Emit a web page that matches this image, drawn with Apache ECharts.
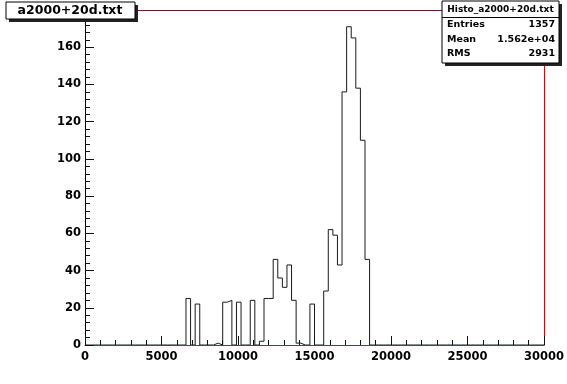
<!DOCTYPE html>
<html>
<head>
<meta charset="utf-8">
<script src="https://cdn.jsdelivr.net/npm/echarts@6/dist/echarts.min.js"></script>
<style>
html,body{margin:0;padding:0;background:#fff;}
#c{width:567px;height:384px;}
</style>
</head>
<body>
<div id="c"></div>
<script>
// ---- data ----
const histTitle = 'a2000+20d.txt';
const statsName = 'Histo_a2000+20d.txt';
const statsLabels = ['Entries', 'Mean', 'RMS'];
const statsValues = ['1357', '1.562e+04', '2931'];
const xMin = 0, xMax = 30000, binWidth = 300;
const yMax = 180;
const xTickStep = 5000;
const yTickStep = 20;
// bin contents, 100 bins of width 300 from 0 to 30000
const counts = [
  0,0,0,0,0,0,0,0,0,0,
  0,0,0,0,0,0,0,0,0,0,
  0,0,25,0,22,0,0,0,1,0,
  23,24,0,23,0,0,24,0,2,25,
  25,46,36,31,43,24,1,0,0,22,
  0,0,29,62,59,43,136,171,165,138,
  110,46,0,0,0,0,0,0,0,0,
  0,0,0,0,0,0,0,0,0,0,
  0,0,0,0,0,0,0,0,0,0,
  0,0,0,0,0,0,0,0,0,0
];

const stepData = counts.map((c, i) => [xMin + i * binWidth, c]);
stepData.push([xMin + counts.length * binWidth, counts[counts.length - 1]]);

const FONT = 'DejaVu Sans';
const chart = echarts.init(document.getElementById('c'), null, {renderer: 'canvas'});

const axisLabelStyle = {color: '#000', fontFamily: FONT, fontWeight: 'bold', fontSize: 11.5, formatter: v => String(v)};

chart.setOption({
  animation: false,
  backgroundColor: '#fff',
  grid: {left: 85, right: 23, top: 10, bottom: 39, containLabel: false, outerBoundsMode: 'none'},
  xAxis: [{
    type: 'value', min: xMin, max: xMax, interval: xTickStep, position: 'bottom', z: 5,
    axisLine: {show: true, onZero: false, lineStyle: {color: '#e00000', width: 1}},
    axisTick: {show: true, inside: true, length: 9, lineStyle: {color: '#111'}},
    minorTick: {show: true, splitNumber: 5, length: 5, lineStyle: {color: '#111'}},
    splitLine: {show: false},
    axisLabel: Object.assign({margin: 6}, axisLabelStyle)
  }, {
    type: 'value', min: xMin, max: xMax, position: 'top', z: 5,
    axisLine: {show: true, onZero: false, lineStyle: {color: '#6e1c1c', width: 1}},
    axisTick: {show: false}, axisLabel: {show: false}, splitLine: {show: false}
  }],
  yAxis: [{
    type: 'value', min: 0, max: yMax, interval: yTickStep, position: 'left', z: 5,
    axisLine: {show: true, onZero: false, lineStyle: {color: '#000', width: 1}},
    axisTick: {show: true, inside: true, length: 9, lineStyle: {color: '#111'}},
    minorTick: {show: true, splitNumber: 5, length: 5, lineStyle: {color: '#111'}},
    splitLine: {show: false},
    axisLabel: Object.assign({margin: 4, showMaxLabel: false}, axisLabelStyle)
  }, {
    type: 'value', min: 0, max: yMax, position: 'right', z: 5,
    axisLine: {show: true, onZero: false, lineStyle: {color: '#e00000', width: 1}},
    axisTick: {show: false}, axisLabel: {show: false}, splitLine: {show: false}
  }],
  series: [{
    type: 'line', step: 'end', data: stepData, xAxisIndex: 0, yAxisIndex: 0,
    showSymbol: false, symbol: 'none', z: 2,
    lineStyle: {color: '#1a1a1a', width: 1}
  }],
  graphic: [
    // title box
    {type: 'rect', shape: {x: 9, y: 5, width: 129, height: 17}, style: {fill: '#222'}, z: 10},
    {type: 'rect', shape: {x: 6, y: 2, width: 129, height: 17}, style: {fill: '#fff', stroke: '#000', lineWidth: 1}, z: 11},
    {type: 'text', x: 70, y: 11, style: {text: histTitle, fill: '#000', font: 'bold 12.5px "DejaVu Sans"', align: 'center', verticalAlign: 'middle'}, z: 12},
    // stats box
    {type: 'rect', shape: {x: 445, y: 4, width: 117, height: 62}, style: {fill: '#222'}, z: 10},
    {type: 'rect', shape: {x: 442, y: 1, width: 117, height: 62}, style: {fill: '#fff', stroke: '#000', lineWidth: 1}, z: 11},
    {type: 'line', shape: {x1: 442, y1: 17.5, x2: 559, y2: 17.5}, style: {stroke: '#000', lineWidth: 1}, z: 12},
    {type: 'text', x: 500.5, y: 10, style: {text: statsName, fill: '#000', font: 'bold 9px "DejaVu Sans"', align: 'center', verticalAlign: 'middle'}, z: 12},
    ...statsLabels.map((t, i) => ({type: 'text', x: 447, y: 25 + i * 14.3, style: {text: t, fill: '#000', font: 'bold 9.5px "DejaVu Sans"', align: 'left', verticalAlign: 'middle'}, z: 12})),
    ...statsValues.map((t, i) => ({type: 'text', x: 555, y: 25 + i * 14.3, style: {text: t, fill: '#000', font: 'bold 9.5px "DejaVu Sans"', align: 'right', verticalAlign: 'middle'}, z: 12}))
  ]
});
</script>
</body>
</html>
